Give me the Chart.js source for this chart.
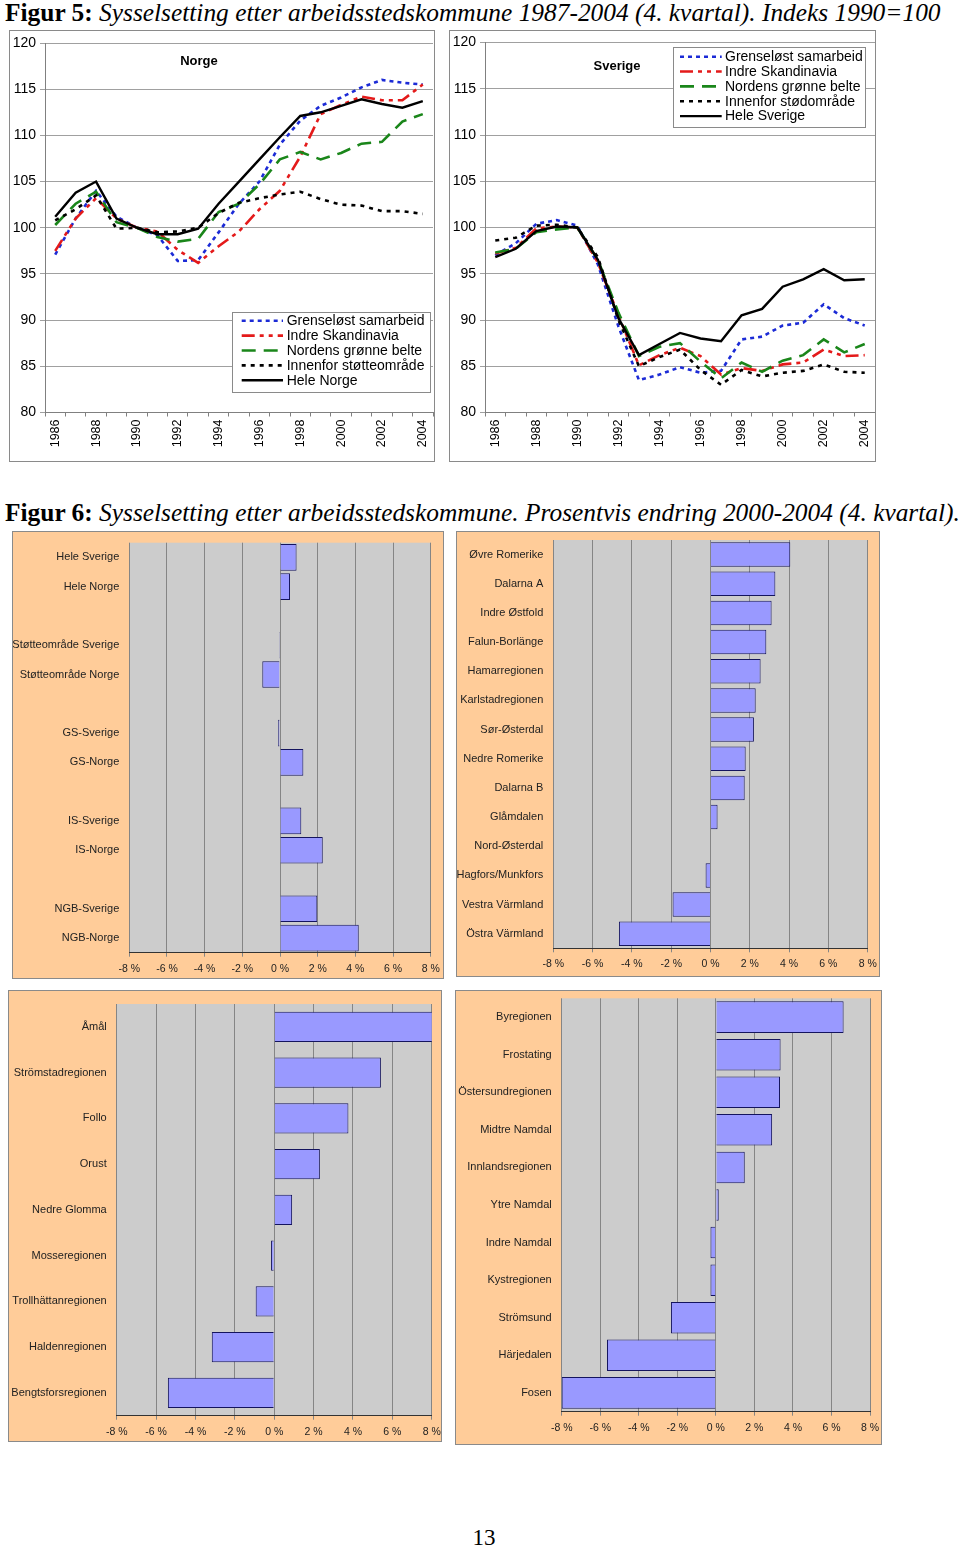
<!DOCTYPE html>
<html><head><meta charset="utf-8">
<script src="https://cdn.jsdelivr.net/npm/chart.js@4.4.0/dist/chart.umd.min.js"></script>
<style>
body{margin:0;background:#fff;width:960px;height:1550px;position:relative;overflow:hidden;font-family:"Liberation Sans",Arial,sans-serif;}
.title{position:absolute;left:5px;font-family:"Liberation Serif","Times New Roman",serif;font-size:25.4px;line-height:28px;white-space:nowrap;color:#000;}
.box{position:absolute;border:1px solid #8a8a8a;box-sizing:border-box;}
.box canvas{position:absolute;left:0;top:0;}
.orange{background:#FFCC99;}
.pnum{position:absolute;left:0;width:968px;text-align:center;top:1525px;font-family:"Liberation Serif","Times New Roman",serif;font-size:23px;}
</style></head>
<body>
<div class="title" style="top:-2px"><b>Figur 5:</b> <i>Sysselsetting etter arbeidsstedskommune 1987-2004 (4. kvartal). Indeks 1990=100</i></div>
<div class="box" style="left:9px;top:30px;width:426px;height:432px"><canvas id="c1" width="424" height="430"></canvas></div>
<div class="box" style="left:449px;top:30px;width:427px;height:432px"><canvas id="c2" width="425" height="430"></canvas></div>
<div class="title" style="top:498px"><b>Figur 6:</b> <i>Sysselsetting etter arbeidsstedskommune. Prosentvis endring 2000-2004 (4. kvartal).</i></div>
<div class="box orange" style="left:12px;top:531px;width:432px;height:448px"><canvas id="b1" width="430" height="446"></canvas></div>
<div class="box orange" style="left:456px;top:531px;width:424px;height:446px"><canvas id="b2" width="422" height="444"></canvas></div>
<div class="box orange" style="left:8px;top:990px;width:434px;height:452px"><canvas id="b3" width="432" height="450"></canvas></div>
<div class="box orange" style="left:455px;top:990px;width:427px;height:455px"><canvas id="b4" width="425" height="453"></canvas></div>
<div class="pnum">13</div>
<script>
// ---------- Figure 5 data ----------
const years = ['1986','1987','1988','1989','1990','1991','1992','1993','1994','1995','1996','1997','1998','1999','2000','2001','2002','2003','2004'];
const seriesNamesNorge = ['Grenseløst samarbeid','Indre Skandinavia','Nordens grønne belte','Innenfor støtteområde','Hele Norge'];
const seriesNamesSverige = ['Grenseløst samarbeid','Indre Skandinavia','Nordens grønne belte','Innenfor stødområde','Hele Sverige'];

const norgeGS     = [97.1, 101.0, 104.0, 101.2, 100.0, 99.2, 96.4, 96.5, 99.5, 102.6, 105.0, 109.0, 111.6, 113.2, 114.1, 115.2, 116.0, 115.7, 115.5];
const norgeIS     = [97.5, 101.0, 103.2, 101.0, 100.0, 99.6, 97.6, 96.2, 98.0, 99.6, 102.0, 104.0, 107.7, 112.3, 113.3, 114.2, 113.8, 113.8, 115.5];
const norgeNGB    = [100.3, 102.6, 103.9, 100.6, 100.0, 99.0, 98.5, 98.8, 101.7, 102.6, 104.7, 107.4, 108.2, 107.4, 108.1, 109.1, 109.3, 111.5, 112.3];
const norgeStotte = [100.8, 102.0, 103.5, 99.9, 100.0, 99.5, 99.6, 100.0, 101.6, 102.7, 103.2, 103.6, 103.9, 103.1, 102.5, 102.4, 101.8, 101.8, 101.5];
const norgeHele   = [101.2, 103.8, 105.0, 101.0, 100.0, 99.3, 99.3, 99.9, 102.6, 105.0, 107.4, 109.8, 112.1, 112.5, 113.2, 113.9, 113.4, 113.0, 113.7];

const sverigeGS   = [97.0, 98.3, 100.4, 100.8, 100.2, 96.0, 89.3, 83.5, 84.1, 84.9, 84.3, 84.5, 87.9, 88.2, 89.4, 89.7, 91.7, 90.2, 89.4];
const sverigeIS   = [97.2, 97.8, 99.9, 100.1, 100.0, 96.2, 90.5, 85.1, 86.2, 87.0, 86.1, 84.1, 84.8, 84.5, 85.2, 85.4, 86.8, 86.1, 86.2];
const sverigeNGB  = [97.3, 97.7, 99.5, 99.8, 100.0, 96.5, 90.8, 86.1, 87.1, 87.5, 85.5, 83.7, 85.4, 84.4, 85.6, 86.2, 87.9, 86.5, 87.4];
const sverigeStod = [98.6, 98.9, 100.2, 100.3, 100.0, 96.8, 90.0, 85.0, 86.0, 86.8, 84.6, 83.0, 84.6, 83.9, 84.3, 84.5, 85.2, 84.4, 84.3];
const sverigeHele = [96.8, 97.7, 99.6, 100.1, 100.0, 96.5, 90.2, 86.2, 87.4, 88.6, 88.0, 87.7, 90.5, 91.2, 93.6, 94.4, 95.5, 94.3, 94.4];

const indexTicks = [80, 85, 90, 95, 100, 105, 110, 115, 120];

// ---------- Figure 6 data ----------
const pctTicks = [-8, -6, -4, -2, 0, 2, 4, 6, 8];
const groupLabels = ['Hele Sverige','Hele Norge','','Støtteområde Sverige','Støtteområde Norge','','GS-Sverige','GS-Norge','','IS-Sverige','IS-Norge','','NGB-Sverige','NGB-Norge'];
const groupValues = [0.88, 0.53, null, -0.05, -0.94, null, -0.1, 1.24, null, 1.13, 2.27, null, 1.98, 4.18];

const regionLabels1 = ['Øvre Romerike','Dalarna A','Indre Østfold','Falun-Borlänge','Hamarregionen','Karlstadregionen','Sør-Østerdal','Nedre Romerike','Dalarna B','Glåmdalen','Nord-Østerdal','Hagfors/Munkfors','Vestra Värmland','Östra Värmland'];
const regionValues1 = [4.06, 3.30, 3.11, 2.84, 2.55, 2.30, 2.21, 1.79, 1.74, 0.36, 0.0, -0.25, -1.93, -4.66];

const regionLabels2 = ['Åmål','Strömstadregionen','Follo','Orust','Nedre Glomma','Mosseregionen','Trollhättanregionen','Haldenregionen','Bengtsforsregionen'];
const regionValues2 = [8.1, 5.42, 3.77, 2.32, 0.91, -0.16, -0.94, -3.17, -5.4];

const regionLabels3 = ['Byregionen','Frostating','Östersundregionen','Midtre Namdal','Innlandsregionen','Ytre Namdal','Indre Namdal','Kystregionen','Strömsund','Härjedalen','Fosen'];
const regionValues3 = [6.63, 3.36, 3.33, 2.92, 1.50, 0.15, -0.28, -0.28, -2.33, -5.65, -8.0];

// ---------- helpers ----------
const FONT = '"Liberation Sans", Arial, sans-serif';
const lineStyles = [
  {borderColor:'#1c2bd6', borderWidth:2.6, borderDash:[4,4]},
  {borderColor:'#e41a1a', borderWidth:2.6, borderDash:[13,5,4,5,4,5]},
  {borderColor:'#1a861a', borderWidth:2.6, borderDash:[14,8]},
  {borderColor:'#000000', borderWidth:2.6, borderDash:[4,5]},
  {borderColor:'#000000', borderWidth:2.4, borderDash:[]}
];

const insideLegend = {
  id: 'insideLegend',
  afterDraw(chart, args, o) {
    if (!o || !o.box) return;
    const ctx = chart.ctx;
    ctx.save();
    if (o.title) {
      ctx.font = 'bold 13px ' + FONT;
      ctx.fillStyle = '#000';
      ctx.textAlign = 'center';
      ctx.textBaseline = 'middle';
      ctx.fillText(o.title.text, o.title.x, o.title.y);
    }
    const b = o.box;
    ctx.fillStyle = '#fff';
    ctx.fillRect(b.x, b.y, b.w, b.h);
    ctx.strokeStyle = '#8a8a8a';
    ctx.lineWidth = 1;
    ctx.strokeRect(b.x + 0.5, b.y + 0.5, b.w - 1, b.h - 1);
    ctx.font = '14px ' + FONT;
    ctx.textAlign = 'left';
    ctx.textBaseline = 'middle';
    chart.data.datasets.forEach((ds, i) => {
      const cy = b.y + b.firstRow + i * b.rowH;
      ctx.beginPath();
      ctx.setLineDash(ds.borderDash || []);
      ctx.strokeStyle = ds.borderColor;
      ctx.lineWidth = ds.borderWidth;
      ctx.moveTo(b.x + b.sx0, cy);
      ctx.lineTo(b.x + b.sx1, cy);
      ctx.stroke();
      ctx.setLineDash([]);
      ctx.fillStyle = '#000';
      ctx.fillText(ds.label, b.x + b.tx, cy + 0.5);
    });
    ctx.restore();
  }
};

const plotBg = {
  id: 'plotBg',
  beforeDraw(chart, args, o) {
    if (!o || !o.color) return;
    const a = chart.chartArea;
    const ctx = chart.ctx;
    ctx.save();
    ctx.fillStyle = o.color;
    ctx.fillRect(a.left, a.top, a.right - a.left, a.bottom - a.top);
    ctx.restore();
  }
};

function noPad(s) { s.paddingLeft = 0; s.paddingRight = 0; s.paddingTop = 0; s.paddingBottom = 0; }

function lineChart(id, names, data, pad, legend) {
  return new Chart(document.getElementById(id), {
    type: 'line',
    data: {
      labels: years,
      datasets: data.map((d, i) => Object.assign({
        label: names[i], data: d, fill: false, pointRadius: 0, tension: 0,
        order: i === 4 ? 0 : 5 - i
      }, lineStyles[i]))
    },
    options: {
      responsive: false, animation: false, devicePixelRatio: 1,
      layout: {padding: pad},
      plugins: {legend: {display: false}, tooltip: {enabled: false}, insideLegend: legend},
      scales: {
        x: {
          type: 'category', offset: true,
          grid: {offset: true, drawOnChartArea: false, tickLength: 4, color: '#808080'},
          border: {color: '#808080'},
          ticks: {autoSkip: false, maxRotation: 90, minRotation: 90, padding: 3, color: '#000',
            font: {family: FONT, size: 12.5},
            callback: (v, i) => (i % 2 === 0 ? years[i] : '')},
          afterFit: s => { s.height = 48.5; noPad(s); }
        },
        y: {
          min: 80, max: 120,
          afterBuildTicks: s => { s.ticks = indexTicks.map(v => ({value: v})); },
          grid: {color: '#a0a0a0', tickLength: 5},
          border: {color: '#808080'},
          ticks: {padding: 4, color: '#000', font: {family: FONT, size: 14}},
          afterFit: s => { s.width = 35; noPad(s); }
        }
      }
    },
    plugins: [insideLegend]
  });
}

lineChart('c1', seriesNamesNorge, [norgeGS, norgeIS, norgeNGB, norgeStotte, norgeHele],
  {top: 12, right: 1, left: 0, bottom: 0},
  {title: {text: 'Norge', x: 189, y: 30},
   box: {x: 222, y: 281, w: 199, h: 81, firstRow: 8.7, rowH: 14.9, sx0: 9.7, sx1: 51, tx: 54.7}});

lineChart('c2', seriesNamesSverige, [sverigeGS, sverigeIS, sverigeNGB, sverigeStod, sverigeHele],
  {top: 11.5, right: 0, left: 0, bottom: 0},
  {title: {text: 'Sverige', x: 167, y: 35},
   box: {x: 223, y: 16, w: 193, h: 81, firstRow: 9.7, rowH: 14.85, sx0: 7, sx1: 48.7, tx: 52}});

function barChart(id, labels, values, yWidth, xHeight, pad, barPct) {
  return new Chart(document.getElementById(id), {
    type: 'bar',
    data: {
      labels: labels,
      datasets: [{data: values, backgroundColor: '#9999FF', borderColor: '#14145e', borderWidth: 1,
        barPercentage: barPct, categoryPercentage: 1}]
    },
    options: {
      indexAxis: 'y', responsive: false, animation: false, devicePixelRatio: 1,
      layout: {padding: pad},
      plugins: {legend: {display: false}, tooltip: {enabled: false}, plotBg: {color: '#CCCCCC'}},
      scales: {
        x: {
          min: -8, max: 8,
          afterBuildTicks: s => { s.ticks = pctTicks.map(v => ({value: v})); },
          grid: {color: '#858585', tickLength: 4},
          border: {color: '#333333'},
          ticks: {padding: 6, color: '#222', font: {family: FONT, size: 10.5}, callback: v => v + ' %'},
          afterFit: s => { s.height = xHeight; noPad(s); }
        },
        y: {
          grid: {display: false, drawTicks: false},
          border: {display: false},
          ticks: {autoSkip: false, padding: 10, color: '#222', font: {family: FONT, size: 11}},
          afterFit: s => { s.width = yWidth; noPad(s); }
        }
      }
    },
    plugins: [plotBg]
  });
}

barChart('b1', groupLabels, groupValues, 116.3, 25.3, {top: 10.7, right: 12.3, left: 0, bottom: 0}, 0.91);
barChart('b2', regionLabels1, regionValues1, 96.3, 27.7, {top: 8, right: 11.3, left: 0, bottom: 0}, 0.84);
barChart('b3', regionLabels2, regionValues2, 107.7, 25.3, {top: 13, right: 9.3, left: 0, bottom: 0}, 0.66);
barChart('b4', regionLabels3, regionValues3, 105.7, 32.3, {top: 7.3, right: 11, left: 0, bottom: 0}, 0.84);
</script>
</body></html>
